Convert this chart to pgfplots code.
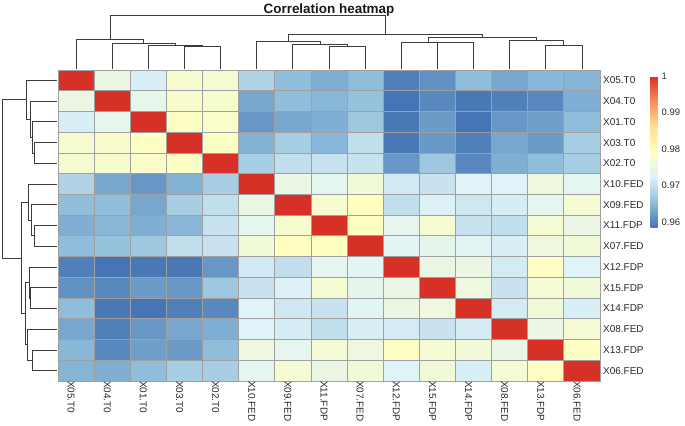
\documentclass[border=0pt]{standalone}
\usepackage{pgfplots}
\pgfplotsset{compat=1.18}
\usepackage{pgfplotstable}
\usepackage{fontspec}
\setmainfont{Liberation Sans}

\definecolor{cellline}{RGB}{160,160,160}
\definecolor{treeline}{RGB}{60,60,60}
\definecolor{labelc}{RGB}{40,40,40}

\pgfplotsset{colormap={rdylbu}{rgb255=(69,117,180) rgb255=(145,191,219) rgb255=(224,243,248)
  rgb255=(255,255,191) rgb255=(254,224,144) rgb255=(252,141,89) rgb255=(215,48,39)}}

% dendrogram (same tree for rows and columns): position along heatmap, merge height
\pgfplotstableread{
p h
4 0
4 70
5 70
5 0
nan nan
3 0
3 74
4.5 74
4.5 70
nan nan
2 0
2 80
3.75 80
3.75 74
nan nan
1 0
1 92
2.875 92
2.875 80
nan nan
8 0
8 69
9 69
9 0
nan nan
7 0
7 77
8.5 77
8.5 69
nan nan
6 0
6 86
7.75 86
7.75 77
nan nan
11 0
11 81
12 81
12 0
nan nan
10 0
10 83
11.5 83
11.5 81
nan nan
14 0
14 74
15 74
15 0
nan nan
13 0
13 89
14.5 89
14.5 74
nan nan
10.75 83
10.75 97
13.75 97
13.75 89
nan nan
6.875 86
6.875 107
12.25 107
12.25 97
nan nan
1.9375 92
1.9375 167
9.5625 167
9.5625 107
}\tree

\def\names{X05.T0,X04.T0,X01.T0,X03.T0,X02.T0,X10.FED,X09.FED,X11.FDP,X07.FED,X12.FDP,X15.FDP,X14.FDP,X08.FED,X13.FDP,X06.FED}

\begin{document}
\begin{tikzpicture}
\useasboundingbox (0bp,0bp) rectangle (685bp,-426bp);

% row dendrogram
\begin{axis}[at={(57bp,-70bp)}, anchor=north east, scale only axis,
  width=55bp, height=311bp, xmin=0, xmax=167, x dir=reverse,
  ymin=0.5, ymax=15.5, y dir=reverse, hide axis, clip=false]
  \addplot[treeline, line width=0.8bp, unbounded coords=jump] table[x=h, y=p] {\tree};
\end{axis}

% column dendrogram
\begin{axis}[at={(58bp,-69bp)}, anchor=south west, scale only axis,
  width=542bp, height=54bp, xmin=0.5, xmax=15.5, ymin=0, ymax=167,
  hide axis, clip=false,
  title={Correlation heatmap},
  title style={at={(0.5,1)}, anchor=base, yshift=-4bp, inner sep=0pt,
    font=\bfseries\fontsize{13.5}{15}\selectfont, text=black!90}]
  \addplot[treeline, line width=0.8bp, unbounded coords=jump] table[x=p, y=h] {\tree};
\end{axis}

% heatmap
\begin{axis}[at={(58bp,-70bp)}, anchor=north west, scale only axis,
  width=542bp, height=311bp,
  xmin=0.5, xmax=15.5, ymin=0.5, ymax=15.5, y dir=reverse,
  xtick={1,...,15}, ytick={1,...,15},
  xticklabels/.expanded=\names, yticklabels/.expanded=\names,
  yticklabel pos=right,
  minor xtick={0.5,1.5,...,15.5}, minor ytick={0.5,1.5,...,15.5},
  grid=minor, minor grid style={cellline, line width=0.8bp},
  major tick length=0pt, minor tick length=0pt,
  axis line style={cellline, line width=0.8bp},
  axis on top,
  tick label style={font=\fontsize{10}{12}\selectfont, text=labelc},
  xticklabel style={rotate=-90, anchor=west, inner sep=0pt, yshift=-5bp},
  yticklabel style={anchor=west, inner sep=0pt, xshift=3bp},
  colormap name=rdylbu, point meta min=0.9587, point meta max=1,
  colorbar,
  colorbar style={at={(parent axis.north east)}, anchor=north west,
    xshift=42bp, yshift=-6bp,
    scale only axis, width=7bp, height=151bp, y dir=normal,
    ytick={0.96,0.97,0.98,0.99,1}, yticklabels={0.96,0.97,0.98,0.99,1},
    major tick length=0pt, axis line style={draw=none},
    yticklabel style={font=\fontsize{9.5}{11}\selectfont, text=labelc, inner sep=0pt, xshift=4bp}},
  ]
  \addplot[matrix plot*, mesh/cols=15, point meta=explicit]
  table[row sep=\\, meta=c] {
x y c\\
1 1 1.0000\\ 2 1 0.9749\\ 3 1 0.9719\\ 4 1 0.9774\\ 5 1 0.9772\\ 6 1 0.9683\\ 7 1 0.9656\\ 8 1 0.9641\\ 9 1 0.9655\\ 10 1 0.9597\\ 11 1 0.9612\\ 12 1 0.9655\\ 13 1 0.9633\\ 14 1 0.9648\\ 15 1 0.9646\\
1 2 0.9749\\ 2 2 1.0000\\ 3 2 0.9741\\ 4 2 0.9778\\ 5 2 0.9775\\ 6 2 0.9633\\ 7 2 0.9656\\ 8 2 0.9648\\ 9 2 0.9660\\ 10 2 0.9587\\ 11 2 0.9605\\ 12 2 0.9590\\ 13 2 0.9597\\ 14 2 0.9605\\ 15 2 0.9641\\
1 3 0.9719\\ 2 3 0.9741\\ 3 3 1.0000\\ 4 3 0.9787\\ 5 3 0.9782\\ 6 3 0.9619\\ 7 3 0.9633\\ 8 3 0.9641\\ 9 3 0.9668\\ 10 3 0.9590\\ 11 3 0.9622\\ 12 3 0.9587\\ 13 3 0.9619\\ 14 3 0.9626\\ 15 3 0.9655\\
1 4 0.9774\\ 2 4 0.9778\\ 3 4 0.9787\\ 4 4 1.0000\\ 5 4 0.9787\\ 6 4 0.9644\\ 7 4 0.9676\\ 8 4 0.9648\\ 9 4 0.9697\\ 10 4 0.9590\\ 11 4 0.9620\\ 12 4 0.9597\\ 13 4 0.9633\\ 14 4 0.9622\\ 15 4 0.9676\\
1 5 0.9772\\ 2 5 0.9775\\ 3 5 0.9782\\ 4 5 0.9787\\ 5 5 1.0000\\ 6 5 0.9676\\ 7 5 0.9697\\ 8 5 0.9704\\ 9 5 0.9704\\ 10 5 0.9619\\ 11 5 0.9668\\ 12 5 0.9605\\ 13 5 0.9641\\ 14 5 0.9655\\ 15 5 0.9676\\
1 6 0.9683\\ 2 6 0.9633\\ 3 6 0.9619\\ 4 6 0.9644\\ 5 6 0.9676\\ 6 6 1.0000\\ 7 6 0.9749\\ 8 6 0.9735\\ 9 6 0.9763\\ 10 6 0.9712\\ 11 6 0.9704\\ 12 6 0.9728\\ 13 6 0.9725\\ 14 6 0.9756\\ 15 6 0.9735\\
1 7 0.9656\\ 2 7 0.9656\\ 3 7 0.9633\\ 4 7 0.9676\\ 5 7 0.9697\\ 6 7 0.9749\\ 7 7 1.0000\\ 8 7 0.9774\\ 9 7 0.9793\\ 10 7 0.9697\\ 11 7 0.9722\\ 12 7 0.9709\\ 13 7 0.9717\\ 14 7 0.9737\\ 15 7 0.9771\\
1 8 0.9641\\ 2 8 0.9648\\ 3 8 0.9641\\ 4 8 0.9648\\ 5 8 0.9704\\ 6 8 0.9735\\ 7 8 0.9774\\ 8 8 1.0000\\ 9 8 0.9793\\ 10 8 0.9737\\ 11 8 0.9771\\ 12 8 0.9704\\ 13 8 0.9697\\ 14 8 0.9771\\ 15 8 0.9749\\
1 9 0.9655\\ 2 9 0.9660\\ 3 9 0.9668\\ 4 9 0.9697\\ 5 9 0.9704\\ 6 9 0.9763\\ 7 9 0.9793\\ 8 9 0.9793\\ 9 9 1.0000\\ 10 9 0.9730\\ 11 9 0.9739\\ 12 9 0.9730\\ 13 9 0.9719\\ 14 9 0.9756\\ 15 9 0.9763\\
1 10 0.9597\\ 2 10 0.9587\\ 3 10 0.9590\\ 4 10 0.9590\\ 5 10 0.9619\\ 6 10 0.9712\\ 7 10 0.9697\\ 8 10 0.9737\\ 9 10 0.9730\\ 10 10 1.0000\\ 11 10 0.9749\\ 12 10 0.9749\\ 13 10 0.9714\\ 14 10 0.9787\\ 15 10 0.9725\\
1 11 0.9612\\ 2 11 0.9605\\ 3 11 0.9622\\ 4 11 0.9620\\ 5 11 0.9668\\ 6 11 0.9704\\ 7 11 0.9722\\ 8 11 0.9771\\ 9 11 0.9739\\ 10 11 0.9749\\ 11 11 1.0000\\ 12 11 0.9756\\ 13 11 0.9704\\ 14 11 0.9771\\ 15 11 0.9763\\
1 12 0.9655\\ 2 12 0.9590\\ 3 12 0.9587\\ 4 12 0.9597\\ 5 12 0.9605\\ 6 12 0.9728\\ 7 12 0.9709\\ 8 12 0.9704\\ 9 12 0.9730\\ 10 12 0.9749\\ 11 12 0.9756\\ 12 12 1.0000\\ 13 12 0.9714\\ 14 12 0.9763\\ 15 12 0.9719\\
1 13 0.9633\\ 2 13 0.9597\\ 3 13 0.9619\\ 4 13 0.9633\\ 5 13 0.9641\\ 6 13 0.9725\\ 7 13 0.9717\\ 8 13 0.9697\\ 9 13 0.9719\\ 10 13 0.9714\\ 11 13 0.9704\\ 12 13 0.9714\\ 13 13 1.0000\\ 14 13 0.9749\\ 15 13 0.9771\\
1 14 0.9648\\ 2 14 0.9605\\ 3 14 0.9626\\ 4 14 0.9622\\ 5 14 0.9655\\ 6 14 0.9756\\ 7 14 0.9737\\ 8 14 0.9771\\ 9 14 0.9756\\ 10 14 0.9787\\ 11 14 0.9771\\ 12 14 0.9763\\ 13 14 0.9749\\ 14 14 1.0000\\ 15 14 0.9787\\
1 15 0.9646\\ 2 15 0.9641\\ 3 15 0.9655\\ 4 15 0.9676\\ 5 15 0.9676\\ 6 15 0.9735\\ 7 15 0.9771\\ 8 15 0.9749\\ 9 15 0.9763\\ 10 15 0.9725\\ 11 15 0.9763\\ 12 15 0.9719\\ 13 15 0.9771\\ 14 15 0.9787\\ 15 15 1.0000\\
};
\end{axis}
\end{tikzpicture}
\end{document}
